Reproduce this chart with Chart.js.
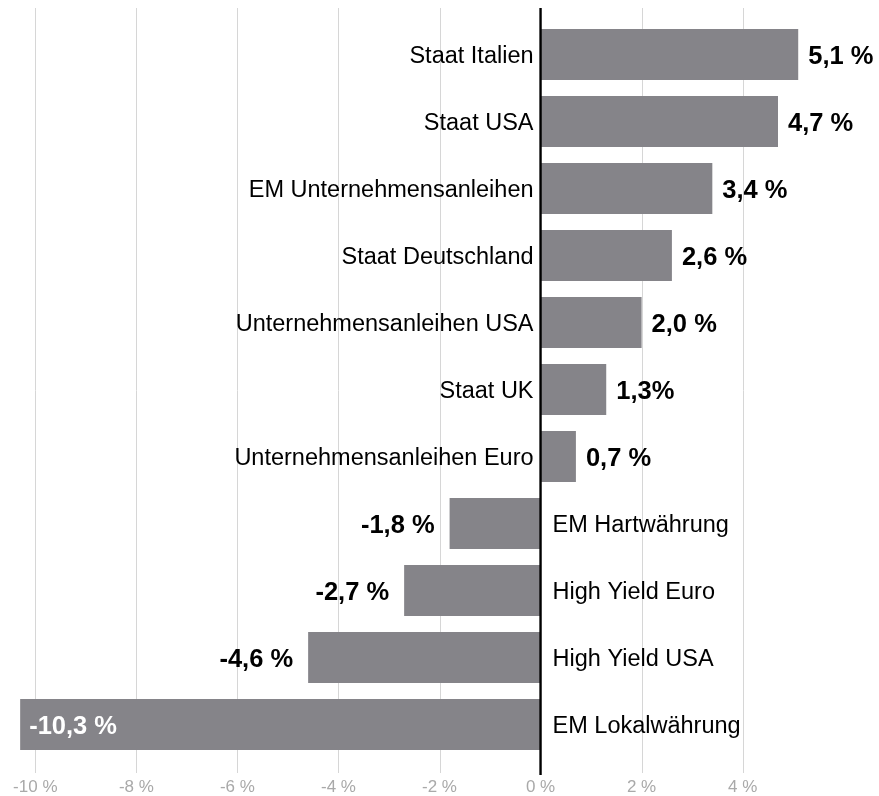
<!DOCTYPE html>
<html>
<head>
<meta charset="utf-8">
<script src="https://cdn.jsdelivr.net/npm/chart.js@4/dist/chart.umd.min.js"></script>
<style>
  html, body { margin: 0; padding: 0; background: #fff; }
  #wrap { width: 879px; height: 796px; position: relative; }
</style>
</head>
<body>
<div id="wrap"><canvas id="chart"></canvas></div>
<script>
const categories = [
  'Staat Italien',
  'Staat USA',
  'EM Unternehmensanleihen',
  'Staat Deutschland',
  'Unternehmensanleihen USA',
  'Staat UK',
  'Unternehmensanleihen Euro',
  'EM Hartwährung',
  'High Yield Euro',
  'High Yield USA',
  'EM Lokalwährung'
];
const values = [5.1, 4.7, 3.4, 2.6, 2.0, 1.3, 0.7, -1.8, -2.7, -4.6, -10.3];
const valueLabels = ['5,1 %', '4,7 %', '3,4 %', '2,6 %', '2,0 %', '1,3%', '0,7 %', '-1,8 %', '-2,7 %', '-4,6 %', '-10,3 %'];
const tickValues = [-10, -8, -6, -4, -2, 0, 2, 4];

const FONT = '"Liberation Sans", Arial, Helvetica, sans-serif';

// grid lines run a bit past the plot area, zero line is black
const gridPlugin = {
  id: 'gridLines',
  beforeDatasetsDraw(chart) {
    const { ctx, chartArea, scales } = chart;
    ctx.save();
    ctx.strokeStyle = '#d6d6d6';
    ctx.lineWidth = 1;
    scales.x.ticks.forEach(t => {
      if (t.value === 0) return;
      const px = Math.round(scales.x.getPixelForValue(t.value)) + 0.5;
      ctx.beginPath();
      ctx.moveTo(px, chartArea.top - 13);
      ctx.lineTo(px, chartArea.bottom + 15);
      ctx.stroke();
    });
    ctx.restore();
  },
  afterDatasetsDraw(chart) {
    const { ctx, chartArea, scales } = chart;
    const zero = scales.x.getPixelForValue(0);
    ctx.save();
    ctx.strokeStyle = '#000';
    ctx.lineWidth = 2.4;
    ctx.beginPath();
    ctx.moveTo(zero, chartArea.top - 13);
    ctx.lineTo(zero, chartArea.bottom + 17);
    ctx.stroke();

    const meta = chart.getDatasetMeta(0);
    meta.data.forEach((bar, i) => {
      const v = values[i];
      const cy = bar.y;

      // category name next to the zero line
      ctx.font = '23.5px ' + FONT;
      ctx.fillStyle = '#000';
      ctx.textBaseline = 'alphabetic';
      if (v >= 0) {
        ctx.textAlign = 'right';
        ctx.fillText(categories[i], zero - 7, cy + 8.5);
      } else {
        ctx.textAlign = 'left';
        ctx.fillText(categories[i], zero + 12, cy + 8.5);
      }

      // value at the end of the bar
      ctx.font = 'bold 25.5px ' + FONT;
      const w = ctx.measureText(valueLabels[i]).width;
      if (v >= 0) {
        ctx.textAlign = 'left';
        ctx.fillStyle = '#000';
        ctx.fillText(valueLabels[i], bar.x + 10, cy + 9.5);
      } else if (bar.x - 15 - w < chartArea.left) {
        ctx.textAlign = 'left';
        ctx.fillStyle = '#fff';
        ctx.fillText(valueLabels[i], bar.x + 9, cy + 9.5);
      } else {
        ctx.textAlign = 'right';
        ctx.fillStyle = '#000';
        ctx.fillText(valueLabels[i], bar.x - 15, cy + 9.5);
      }
    });
    ctx.restore();
  }
};

new Chart(document.getElementById('chart'), {
  type: 'bar',
  data: {
    labels: categories,
    datasets: [{
      data: values,
      backgroundColor: '#858489',
      borderWidth: 0,
      categoryPercentage: 1,
      barPercentage: 0.76
    }]
  },
  options: {
    indexAxis: 'y',
    responsive: true,
    maintainAspectRatio: false,
    animation: false,
    layout: { padding: { top: 21, left: 5, right: 5, bottom: 0 } },
    plugins: {
      legend: { display: false },
      tooltip: { enabled: false }
    },
    scales: {
      x: {
        min: -10.6,
        max: 6.6,
        afterBuildTicks: scale => {
          scale.ticks = tickValues.map(v => ({ value: v }));
        },
        afterFit: scale => {
          scale.height = 38;
          scale.paddingLeft = 0;
          scale.paddingRight = 0;
        },
        grid: { display: false, drawTicks: false },
        border: { display: false },
        ticks: {
          padding: 19,
          color: '#a9a9a9',
          font: { family: FONT, size: 17 },
          maxRotation: 0,
          callback: v => v + ' %'
        }
      },
      y: {
        display: false
      }
    }
  },
  plugins: [gridPlugin]
});
</script>
</body>
</html>
